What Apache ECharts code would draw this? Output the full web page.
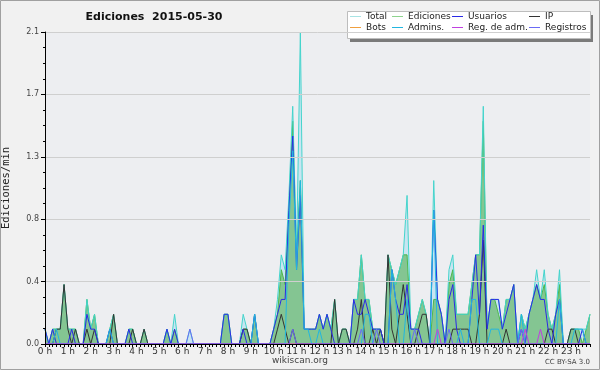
<!DOCTYPE html>
<html><head><meta charset="utf-8">
<script src="https://cdn.jsdelivr.net/npm/echarts@6/dist/echarts.min.js"></script>
<style>html,body{margin:0;padding:0;background:#f1f1f1}#c{width:600px;height:370px}</style>
</head><body><div id="c"></div>
<script>
// x = index of the 10-minute slot (0 = 0:00 ... 143 = 23:50)
const hourLabels = ['0 h','1 h','2 h','3 h','4 h','5 h','6 h','7 h','8 h','9 h','10 h','11 h','12 h','13 h','14 h','15 h','16 h','17 h','18 h','19 h','20 h','21 h','22 h','23 h'];
const yTickLabels = ['0.0','0.4','0.8','1.3','1.7','2.1'];

const total = [
0.1,0,0.1,0.1,0.1,0.4,0.1,0.1,0.1,0,0,0.3,
0.1,0.2,0,0,0,0.1,0.2,0,0,0,0.1,0.1,
0,0,0.1,0,0,0,0,0,0.1,0,0.2,0,
0,0,0.1,0,0,0,0,0,0,0,0,0.2,
0.2,0,0,0,0.2,0.1,0,0.2,0,0,0,0,
0.1,0.3,0.6,0.5,1.0,1.6,0.6,2.1,0.1,0.1,0.1,0.1,
0.2,0.1,0.2,0.1,0.3,0,0.1,0.1,0,0.3,0.3,0.6,
0.3,0.3,0.1,0.1,0.1,0,0.6,0.5,0.4,0.5,0.6,1.0,
0.1,0.1,0.2,0.3,0.2,0,1.1,0.3,0.2,0,0.5,0.6,
0.2,0.2,0.2,0.2,0.4,0.6,0.6,1.6,0.1,0.3,0.3,0.3,
0.1,0.3,0.3,0.4,0,0.2,0.1,0.2,0.3,0.5,0.3,0.5,
0.2,0.1,0.2,0.5,0,0,0.1,0.1,0.1,0.1,0.1,0.2];
const ediciones = [
0.1,0,0.1,0.1,0.1,0.4,0.1,0.1,0.1,0,0,0.3,
0.1,0.2,0,0,0,0.1,0.2,0,0,0,0.1,0.1,
0,0,0.1,0,0,0,0,0,0.1,0,0.1,0,
0,0,0,0,0,0,0,0,0,0,0,0.2,
0.2,0,0,0,0.1,0.1,0,0.2,0,0,0,0,
0.1,0.2,0.5,0.4,0.9,1.5,0.6,1.1,0.1,0.1,0.1,0.1,
0.2,0.1,0.2,0.1,0.3,0,0.1,0.1,0,0.3,0.3,0.6,
0.3,0.3,0.1,0.1,0.1,0,0.6,0.5,0.4,0.5,0.6,0.6,
0.1,0.1,0.2,0.3,0.2,0,0.3,0.3,0.2,0,0.4,0.5,
0.2,0.2,0.2,0.2,0.4,0.6,0.6,1.5,0.1,0.3,0.3,0.2,
0.1,0.3,0.3,0.4,0,0.2,0.1,0.2,0.3,0.4,0.3,0.4,
0.2,0.1,0.2,0.4,0,0,0.1,0.1,0.1,0,0.1,0.2];
const usuarios = [
0.1,0,0.1,0,0,0,0,0.1,0,0,0,0.2,
0.1,0.1,0,0,0,0.1,0,0,0,0,0.1,0,
0,0,0,0,0,0,0,0,0.1,0,0.1,0,
0,0,0,0,0,0,0,0,0,0,0,0.2,
0.2,0,0,0,0.1,0,0,0.2,0,0,0,0,
0.1,0.2,0.3,0.3,0.9,1.4,0.5,1.0,0.1,0.1,0.1,0.1,
0.2,0.1,0.2,0.1,0,0,0,0,0,0.3,0.2,0.2,
0.3,0.2,0.1,0.1,0.1,0,0,0.5,0.3,0.2,0.2,0.4,
0.1,0.1,0.1,0,0,0,0.9,0.3,0.2,0,0.3,0.4,
0.1,0,0,0,0.3,0.6,0.2,0.8,0.1,0.3,0.3,0.3,
0.1,0.2,0.3,0.4,0,0.1,0,0.2,0.3,0.4,0.3,0.3,
0.1,0,0.2,0.3,0,0,0,0,0,0.1,0,0];
const ip = [
0,0,0,0.1,0.1,0.4,0.1,0,0.1,0,0,0.1,
0,0.1,0,0,0,0,0.2,0,0,0,0,0.1,
0,0,0.1,0,0,0,0,0,0,0,0,0,
0,0,0,0,0,0,0,0,0,0,0,0,
0,0,0,0,0.1,0.1,0,0,0,0,0,0,
0,0.1,0.2,0.1,0,0.1,0,0,0,0,0,0,
0,0,0,0,0.3,0,0.1,0.1,0,0,0.1,0.3,
0,0,0.1,0,0.1,0,0.6,0.1,0,0.2,0.4,0.2,
0,0,0.1,0.2,0.2,0,0,0,0,0,0,0.1,
0.1,0.1,0.1,0.1,0,0,0.2,0.7,0,0,0,0,
0,0.1,0,0,0,0,0,0,0,0,0,0,
0.1,0.1,0,0,0,0,0.1,0.1,0,0,0,0];
const bots = [
0,0,0,0,0,0,0,0,0,0,0,0, 0,0,0,0,0,0,0,0,0,0,0,0,
0,0,0,0,0,0,0,0,0,0,0,0, 0,0,0,0,0,0,0,0,0,0,0,0,
0,0,0,0,0,0,0,0,0,0,0,0, 0,0,0,0,0,0,0,0,0,0,0,0,
0,0,0,0,0,0,0,0,0,0,0,0, 0,0,0,0,0,0,0,0,0,0,0,0,
0,0,0,0,0,0,0,0,0,0,0,0, 0,0,0,0,0,0,0,0,0,0,0,0,
0,0,0,0,0,0,0,0,0,0,0,0, 0,0,0,0,0,0,0,0,0,0,0,0];
const admins = [
0,0,0,0.1,0,0,0,0,0,0,0,0,
0,0,0,0,0,0.1,0,0,0,0,0,0,
0,0,0,0,0,0,0,0,0,0,0,0,
0,0,0,0,0,0,0,0,0,0,0,0,
0,0,0,0,0,0,0,0.2,0,0,0,0,
0,0,0,0,0.8,1.3,0.5,1.1,0.1,0.1,0,0,
0.1,0,0,0,0,0,0,0,0,0,0,0,
0.2,0.2,0,0,0,0,0,0.5,0.3,0,0,0.3,
0,0,0,0,0,0,0.9,0,0,0,0,0,
0,0.1,0,0,0.3,0.3,0,0,0,0.1,0.1,0.1,
0,0,0,0,0,0.2,0,0,0,0,0,0,
0,0,0,0.3,0,0,0,0.1,0.1,0.1,0,0];
const regAdm = [
0,0,0,0,0,0,0,0,0,0,0,0, 0,0,0,0,0,0,0,0,0,0,0,0,
0,0,0,0,0,0,0,0,0,0,0,0, 0,0,0,0,0,0,0,0,0,0,0,0,
0,0,0,0,0,0,0,0,0,0,0,0, 0,0,0,0,0,0,0,0,0,0,0,0,
0,0,0,0,0,0,0,0,0,0,0,0, 0,0,0,0,0,0,0,0,0,0,0,0,
0,0,0,0,0,0,0,0.1,0,0,0,0, 0,0,0,0,0,0,0,0,0,0,0,0,
0,0,0,0,0,0,0.1,0,0,0,0.1,0, 0,0,0,0,0,0,0,0,0,0,0,0];
const registros = [
0,0,0,0,0,0,0,0,0,0,0,0, 0,0,0,0,0,0,0,0,0,0,0,0,
0,0,0,0,0,0,0,0,0,0,0,0, 0,0,0.1,0,0,0,0,0,0,0,0,0,
0,0,0,0,0,0,0,0,0,0,0,0, 0,0,0,0,0,0.1,0,0,0,0,0,0,
0,0,0,0,0,0,0,0,0,0,0,0.1, 0,0,0,0.1,0,0,0,0,0,0,0,0,
0,0.1,0,0,0,0,0,0,0,0,0.1,0, 0,0,0,0,0,0,0,0,0,0,0,0,
0,0,0,0,0,0.1,0,0,0,0,0,0, 0,0,0,0,0,0,0,0,0,0,0,0];

const C = {
  total: '#44d4cc', totalFill: 'rgba(170,222,240,0.55)', totalLeg: '#a8e4e4',
  edic: '#4cb84c', edicFill: 'rgba(86,175,84,0.6)', edicLeg: '#8ed48e',
  usu: '#2a2ae6', ip: '#333333', bots: '#f0a040', adm: '#22b6e0', regadm: '#c040e0', reg: '#6a6af5'
};
const font = 'DejaVu Sans';
const pairs = arr => arr.map((v, i) => [i, v]);
function line(name, data, color, z, extra) {
  return Object.assign({
    name, type: 'line', data: pairs(data), showSymbol: false, symbol: 'none', z,
    itemStyle: { color }, lineStyle: { color, width: 1 }, animation: false
  }, extra || {});
}
const legendCols = [350, 392, 452, 529];
const legendRows = [12, 23];
const legendItems = [
  ['Total', C.totalLeg], ['Ediciones', C.edicLeg], ['Usuarios', C.usu], ['IP', C.ip],
  ['Bots', C.bots], ['Admins.', C.adm], ['Reg. de adm.', C.regadm], ['Registros', C.reg]
];
const legends = legendItems.map((it, k) => ({
  data: [{ name: it[0], itemStyle: { color: it[1] } }],
  left: legendCols[k % 4], top: legendRows[Math.floor(k / 4)], z: 100,
  icon: 'rect', itemWidth: 11, itemHeight: 1, padding: 0, selectedMode: false,
  textStyle: { fontFamily: font, fontSize: 9, color: '#222' }
}));

const chart = echarts.init(document.getElementById('c'), null, { renderer: 'canvas' });
chart.setOption({
  backgroundColor: '#f1f1f1',
  animation: false,
  grid: { left: 45, right: 10, top: 32, bottom: 26, show: true, backgroundColor: '#edeef1', borderWidth: 0,
          containLabel: false, outerBoundsMode: 'none' },
  legend: legends,
  xAxis: {
    type: 'value', min: 0, max: 143, interval: 6, z: 10,
    axisLine: { lineStyle: { color: '#000', width: 1 } },
    axisTick: { show: true, length: 3, lineStyle: { color: '#000' } },
    minorTick: { show: true, splitNumber: 6, length: 3, lineStyle: { color: '#000' } },
    axisLabel: { margin: 3, fontFamily: font, fontSize: 9, color: '#333', showMaxLabel: false,
      formatter: v => hourLabels[Math.round(v / 6)] || '' },
    splitLine: { show: false }, minorSplitLine: { show: false }
  },
  yAxis: {
    type: 'value', min: 0, max: 2.1, interval: 0.42, z: 10,
    name: 'Ediciones/min', nameLocation: 'middle', nameGap: 33,
    nameTextStyle: { fontFamily: 'DejaVu Sans Mono', fontSize: 10.5, color: '#222' },
    axisLine: { show: true, lineStyle: { color: '#000', width: 1 } },
    axisTick: { show: true, length: 4, lineStyle: { color: '#000' } },
    minorTick: { show: true, splitNumber: 4, length: 2, lineStyle: { color: '#000' } },
    axisLabel: { margin: 6, fontFamily: font, fontSize: 8, color: '#444',
      formatter: v => yTickLabels[Math.round(v / 0.42)] },
    splitLine: { show: true, lineStyle: { color: '#cfcfcf', width: 1 } }
  },
  series: [
    line('Total', total, C.total, 1, { lineStyle: { width: 1, opacity: 0 }, areaStyle: { color: C.totalFill, opacity: 1 } }),
    line('Ediciones', ediciones, C.edic, 2, { areaStyle: { color: C.edicFill, opacity: 1 } }),
    line('Total', total, C.total, 3),
    line('Bots', bots, C.bots, 3),
    line('IP', ip, C.ip, 4),
    line('Usuarios', usuarios, C.usu, 5),
    line('Admins.', admins, C.adm, 6),
    line('Registros', registros, C.reg, 7),
    line('Reg. de adm.', regAdm, C.regadm, 8)
  ],
  graphic: [
    { type: 'rect', z: -1, shape: { x: 0.5, y: 0.5, width: 599, height: 369 }, style: { fill: null, stroke: '#a0a0a0', lineWidth: 1 } },
    { type: 'rect', z: 1, shape: { x: 350, y: 15, width: 243, height: 27 }, style: { fill: '#7a7a7a' } },
    { type: 'rect', z: 2, shape: { x: 347.5, y: 11.5, width: 243, height: 27 }, style: { fill: '#ffffff', stroke: '#bdbdbd', lineWidth: 1 } },
    { type: 'text', x: 154, y: 17, z: 60, style: { text: 'Ediciones  2015-05-30', fill: '#111', font: 'bold 11px "DejaVu Sans"', textAlign: 'center', textVerticalAlign: 'middle' } },
    { type: 'text', x: 300, y: 361, z: 60, style: { text: 'wikiscan.org', fill: '#444', font: '9px "DejaVu Sans"', textAlign: 'center', textVerticalAlign: 'middle' } },
    { type: 'text', x: 590, y: 362, z: 60, style: { text: 'CC BY-SA 3.0', fill: '#444', font: '7px "DejaVu Sans"', textAlign: 'right', textVerticalAlign: 'middle' } }
  ]
});
</script></body></html>
